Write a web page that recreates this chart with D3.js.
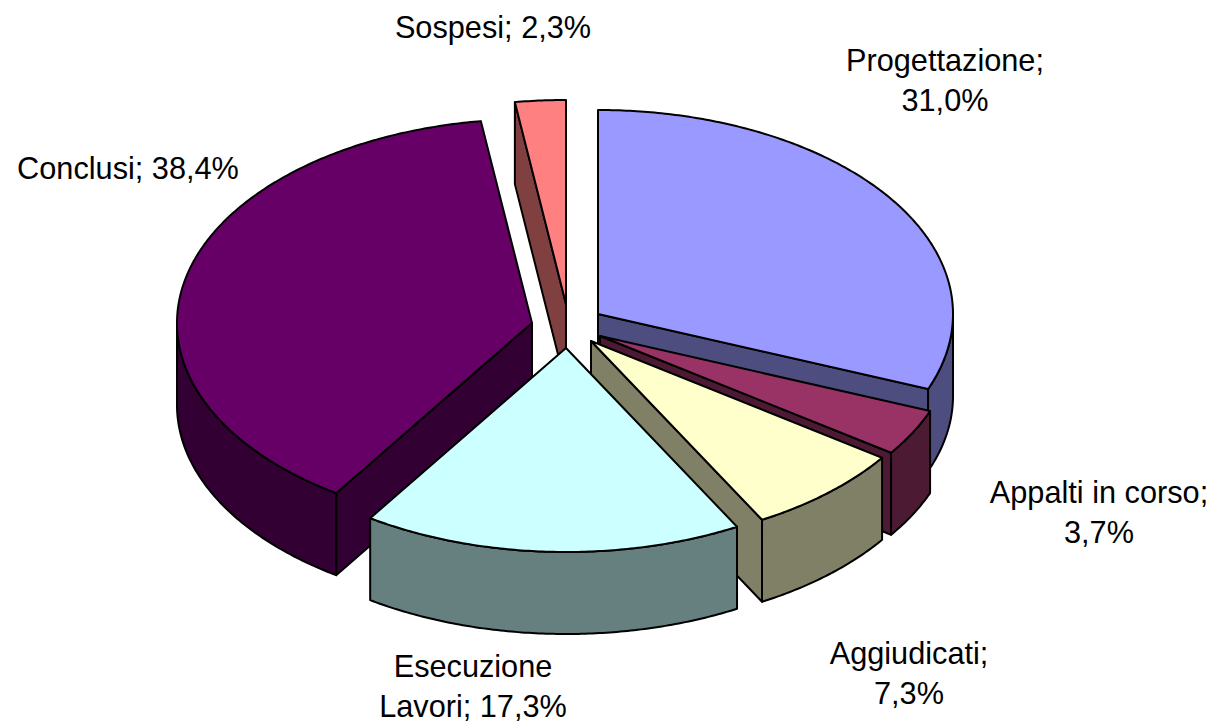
<!DOCTYPE html>
<html>
<head>
<meta charset="utf-8">
<script src="https://cdn.jsdelivr.net/npm/d3@7"></script>
<style>
  html, body { margin: 0; padding: 0; background: #fff; }
  svg { display: block; }
  text { font-family: "Liberation Sans", Arial, sans-serif; font-size: 30.7px; fill: #000; }
</style>
</head>
<body>
<svg id="grafico" width="1211" height="723"></svg>
<script>
// dati
var categorie = ["Progettazione", "Appalti in corso", "Aggiudicati", "Esecuzione Lavori", "Conclusi", "Sospesi"];
var valori = [31.0, 3.7, 7.3, 17.3, 38.4, 2.3];
var coloriTop = ["#9999FF", "#993366", "#FFFFCC", "#CCFFFF", "#660066", "#FF8080"];
var coloriLato = ["#4D4D80", "#4D1A33", "#808066", "#668080", "#330033", "#804040"];

// layout della torta: ogni fetta ha il suo vertice perche' e' esplosa
var raggioX = 355, raggioY = 204, spessore = 82;
var vertici = [[598, 314], [600, 336], [591, 341], [566, 348], [532, 323], [566, 304]];
var ordineDisegno = [5, 0, 4, 1, 2, 3];

// parole sulla prima riga dell'etichetta (0 = riga unica) e posizione
var parolePrimaRiga = [1, 3, 1, 1, 0, 0];
var posEtichette = [[945, 71], [1099, 503], [909, 664], [473, 677], [128, 179], [493, 38]];
var interlinea = 40;

var svg = d3.select("#grafico");

var fette = d3.pie().sort(null).value(function(d){ return d; })(valori);
var scalaX = d3.scaleLinear().domain([-1, 1]);
var scalaY = d3.scaleLinear().domain([-1, 1]);
var linea = d3.line();

function punto(i, angolo, giu){
	scalaX.range([vertici[i][0] - raggioX, vertici[i][0] + raggioX]);
	scalaY.range([vertici[i][1] - raggioY, vertici[i][1] + raggioY]);
	return [scalaX(Math.sin(angolo)), scalaY(-Math.cos(angolo)) + (giu ? spessore : 0)];
}

function puntiArco(i, a0, a1, giu){
	var n = Math.max(2, Math.ceil((a1 - a0) / 0.01));
	return d3.range(n + 1).map(function(k){
		return punto(i, a0 + (a1 - a0) * k / n, giu);
	});
}

function faccia(punti, colore){
	svg.append("path")
		.attr("d", linea(punti) + "Z")
		.style("fill", colore)
		.style("stroke", "#000")
		.style("stroke-width", 2)
		.style("stroke-linejoin", "round");
}

function facciaTaglio(i, angolo){
	var v = vertici[i];
	faccia([v, punto(i, angolo, false), punto(i, angolo, true), [v[0], v[1] + spessore]], coloriLato[i]);
}

ordineDisegno.forEach(function(i){

	var a0 = fette[i].startAngle, a1 = fette[i].endAngle;

	// facce di taglio rivolte verso chi guarda
	if(Math.sin(a0) < -1e-6) facciaTaglio(i, a0);
	if(Math.sin(a1) > 1e-6) facciaTaglio(i, a1);

	// parete esterna, solo la parte davanti (tra 90 e 270 gradi)
	var da = Math.max(a0, Math.PI / 2), fino = Math.min(a1, Math.PI * 1.5);
	if(fino > da){
		faccia(puntiArco(i, da, fino, false).concat(puntiArco(i, da, fino, true).reverse()), coloriLato[i]);
	}

	// faccia superiore
	faccia([vertici[i]].concat(puntiArco(i, a0, a1, false)), coloriTop[i]);

});

// etichette
categorie.forEach(function(nome, i){

	var parole = (nome + "; " + d3.format(".1f")(valori[i]).replace(".", ",") + "%").split(" ");
	var righe = parolePrimaRiga[i] ? [parole.slice(0, parolePrimaRiga[i]).join(" "), parole.slice(parolePrimaRiga[i]).join(" ")] : [parole.join(" ")];

	righe.forEach(function(riga, r){
		svg.append("text")
			.attr("x", posEtichette[i][0])
			.attr("y", posEtichette[i][1] + r * interlinea)
			.attr("text-anchor", "middle")
			.text(riga);
	});

});
</script>
</body>
</html>
